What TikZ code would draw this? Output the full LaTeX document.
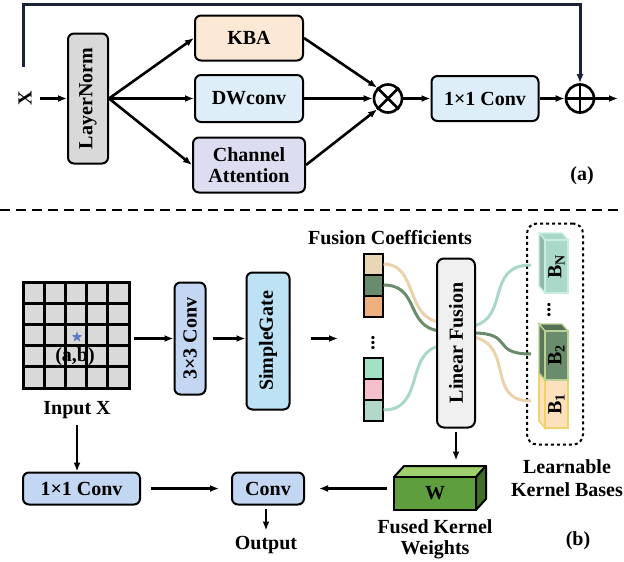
\documentclass[tikz,border=0pt]{standalone}
\usepackage{fontspec}
\setmainfont{Liberation Serif}
\usetikzlibrary{arrows.meta,shapes.geometric}
\definecolor{kbafill}{HTML}{FCE9D5}
\definecolor{dwfill}{HTML}{DDEEF8}
\definecolor{cafill}{HTML}{DCDDF0}
\definecolor{lnfill}{HTML}{D9D9D9}
\definecolor{convfill}{HTML}{C3D7F2}
\definecolor{sgfill}{HTML}{BEE2F5}
\definecolor{lffill}{HTML}{F0F0F0}
\definecolor{ctan}{HTML}{E9D6B4}
\definecolor{cdkgreen}{HTML}{6A8C6C}
\definecolor{corange}{HTML}{EDB07E}
\definecolor{cmint}{HTML}{A2E2C4}
\definecolor{cpink}{HTML}{F6C0CA}
\definecolor{cteal}{HTML}{B1D8C9}
\definecolor{curvetan}{HTML}{EAD3AC}
\definecolor{curveteal}{HTML}{AAD8C6}
\definecolor{bnfill}{HTML}{ABD9C9}
\definecolor{bnedge}{HTML}{C9EEDF}
\definecolor{btwoedge}{HTML}{B9D193}
\definecolor{bonefill}{HTML}{FDE1BC}
\definecolor{boneedge}{HTML}{EFD36A}
\definecolor{wfront}{HTML}{5E9E3C}
\definecolor{wtop}{HTML}{9ED06C}
\definecolor{wside}{HTML}{3F6E27}
\definecolor{linecol}{HTML}{1A2236}
\definecolor{starcol}{HTML}{5B7BC8}
\tikzset{
  lbl/.style={font=\fontsize{20}{22}\selectfont\bfseries},
  blk/.style={draw, line width=2pt, rounded corners=6pt, align=center, inner sep=0pt, lbl},
  arr/.style={-{Latex[length=9pt,width=7pt]}, line width=2.6pt},
  opcirc/.style={draw, circle, line width=2.6pt, minimum size=28pt, inner sep=0pt},
  cell/.style={draw, line width=2pt},
  gridcell/.style={draw, line width=3pt},
  mix/.style={line width=3pt},
}
\begin{document}
\begin{tikzpicture}[x=1pt,y=-1pt]
\useasboundingbox (0,0) rectangle (624,562);

% ---------------- part (a) ----------------
\node[lbl, rotate=90] (x) at (25,98) {X};
\node[blk, fill=lnfill, minimum width=40pt, minimum height=130pt] (ln) at (88,98.5) {};
\node[lbl, rotate=90] at (ln.center) {LayerNorm};
\node[blk, fill=kbafill, minimum width=108pt, minimum height=45pt] (kba) at (249,38) {KBA};
\node[blk, fill=dwfill, minimum width=108pt, minimum height=47pt] (dw) at (249,98.5) {DWconv};
\node[blk, fill=cafill, minimum width=112pt, minimum height=55pt] (ca) at (249,165) {Channel\\[-1pt]Attention};
\node[opcirc] (mul) at (388,98.5) {};
\draw[line width=2.6pt] (mul.north west) -- (mul.south east) (mul.north east) -- (mul.south west);
\node[blk, fill=dwfill, minimum width=107pt, minimum height=45pt] (pc) at (485,98.5) {1\texttimes1 Conv};
\node[opcirc] (add) at (580,98.5) {};
\draw[line width=2.6pt] (add.north) -- (add.south) (add.west) -- (add.east);
\coordinate (outa) at (618,98.5);
\coordinate (inA) at (40,98.5);
\coordinate (skipA) at (23,67);
\coordinate (skipB) at (23,4);
\coordinate (skipC) at (580,4);

\draw[arr] (inA) -- (ln.west);
\draw[arr] (ln.east) -- (kba.west);
\draw[arr] (ln.east) -- (dw.west);
\draw[arr] (ln.east) -- (ca.west);
\draw[arr] (kba.east) -- (mul.north west);
\draw[arr] (dw.east) -- (mul.west);
\draw[arr] (ca.east) -- (mul.south west);
\draw[arr] (mul.east) -- (pc.west);
\draw[arr] (pc.east) -- (add.west);
\draw[arr] (add.east) -- (outa);
\draw[arr, draw=linecol, line width=3pt] (skipA) -- (skipB) -- (skipC) -- (add.north);
\node[lbl] (la) at (582,176) {(a)};

\draw[line width=2.6pt, dash pattern=on 10pt off 6pt] (0,210) -- (624,210);

% ---------------- part (b) ----------------
% input feature grid
\foreach \i in {0,...,4}{
  \foreach \j in {0,...,4}{
    \draw[gridcell, fill=lnfill] (23+21.2*\i,282+21.2*\j) rectangle ++(21.2,21.2);
  }
}
\node[star, star points=5, star point ratio=2.4, fill=starcol, minimum size=11pt, inner sep=0pt] (star) at (77,337) {};
\node[lbl] (ab) at (75,357) {(a,b)};
\node[lbl] (inx) at (77,410) {Input X};
\coordinate (gridE) at (134,338.5);

\node[blk, fill=convfill, minimum width=31pt, minimum height=112pt] (c3) at (190,338.5) {};
\node[lbl, rotate=90] at (c3.center) {3\texttimes3 Conv};
\node[blk, fill=sgfill, minimum width=43pt, minimum height=137pt] (sg) at (268,341) {};
\node[lbl, rotate=90] at (sg.center) {SimpleGate};
\draw[arr] (gridE) -- (c3.west);
\draw[arr] ([xshift=6pt]c3.east) -- (c3.east -| sg.west);
\coordinate (coefin) at (338,338.5);
\draw[arr] ([xshift=20pt]sg.east |- coefin) -- (coefin);

\node[lbl] (fc) at (390,238) {Fusion Coefficients};

% fusion coefficient vectors
\node[cell, fill=ctan, minimum width=19pt, minimum height=21pt, inner sep=0pt] (k1) at (373,264) {};
\node[cell, fill=cdkgreen, minimum width=19pt, minimum height=21pt, inner sep=0pt] (k2) at (373,285) {};
\node[cell, fill=corange, minimum width=19pt, minimum height=21pt, inner sep=0pt] (k3) at (373,306) {};
\node[lbl, rotate=90] (kd) at (373,343) {...};
\node[cell, fill=cmint, minimum width=19pt, minimum height=21pt, inner sep=0pt] (k4) at (373,368) {};
\node[cell, fill=cpink, minimum width=19pt, minimum height=21pt, inner sep=0pt] (k5) at (373,389) {};
\node[cell, fill=cteal, minimum width=19pt, minimum height=21pt, inner sep=0pt] (k6) at (373,410) {};

% kernel bases
\node[draw, dashed, line width=2pt, rounded corners=10pt, minimum width=56pt, minimum height=221pt] (bases) at (555,334) {};
\coordinate (bnA) at (531,265);
\coordinate (b2A) at (531,354);
\coordinate (b1A) at (531,401);

% mixing curves
\coordinate (lfinA) at (440,322);
\coordinate (lfinB) at (440,331);
\coordinate (lfinC) at (440,346);
\coordinate (lfoutA) at (473,326);
\coordinate (lfoutB) at (473,333);
\coordinate (lfoutC) at (473,337);
\draw[curvetan, mix] (k1.east) .. controls (418,264) and (405,318) .. (lfinA);
\draw[cdkgreen, mix] (k2.east) .. controls (420,285) and (405,327) .. (lfinB);
\draw[curveteal, mix] (k6.east) .. controls (425,410) and (405,352) .. (lfinC);
\draw[curveteal, mix] (lfoutA) .. controls (510,318) and (485,265) .. (bnA);
\draw[cdkgreen, mix] (lfoutB) .. controls (515,333) and (490,354) .. (b2A);
\draw[curvetan, mix] (lfoutC) .. controls (515,345) and (485,401) .. (b1A);

\node[blk, fill=lffill, minimum width=38pt, minimum height=169pt, rounded corners=7pt] (lf) at (456,343) {};
\node[lbl, rotate=90] at (lf.center) {Linear Fusion};

% cubes B_N, B_2, B_1
\filldraw[fill=bnfill, draw=bnedge, line width=1.4pt] (545,240) -- (568,240) -- (562,233) -- (539,233) -- cycle;
\filldraw[fill=bnfill!85!black, draw=bnedge, line width=1.4pt] (545,240) -- (539,233) -- (539,286) -- (545,293) -- cycle;
\node[fill=bnfill, draw=bnedge, line width=1.4pt, minimum width=23pt, minimum height=53pt, inner sep=0pt] (bn) at (556.5,266.5) {};
\node[lbl, rotate=90] at (bn.center) {B\textsubscript{N}};
\node[lbl, rotate=90] (bd) at (549,310) {...};

\filldraw[fill=bonefill, draw=boneedge, line width=1.6pt] (545,380) -- (539,373) -- (539,421) -- (545,428) -- cycle;
\node[fill=bonefill, draw=boneedge, line width=1.6pt, minimum width=23pt, minimum height=48pt, inner sep=0pt] (b1) at (556.5,404) {};
\node[lbl, rotate=90] at (b1.center) {B\textsubscript{1}};
\filldraw[fill=cdkgreen!80!black, draw=btwoedge, line width=1.4pt] (545,331) -- (568,331) -- (562,324) -- (539,324) -- cycle;
\filldraw[fill=cdkgreen!85!black, draw=btwoedge, line width=1.4pt] (545,331) -- (539,324) -- (539,373) -- (545,380) -- cycle;
\node[fill=cdkgreen, draw=btwoedge, line width=1.4pt, minimum width=23pt, minimum height=49pt, inner sep=0pt] (b2) at (556.5,355.5) {};
\node[lbl, rotate=90] at (b2.center) {B\textsubscript{2}};

\node[lbl, align=center] (lkb) at (567,478) {Learnable\\[1pt]Kernel Bases};

% fused kernel cuboid W
\filldraw[fill=wtop, draw=black, line width=2pt, line join=round] (394,477) -- (476,477) -- (486,466) -- (404,466) -- cycle;
\filldraw[fill=wside, draw=black, line width=2pt, line join=round] (476,477) -- (486,466) -- (486,499) -- (476,510) -- cycle;
\node[draw, line width=2pt, fill=wfront, minimum width=82pt, minimum height=33pt, inner sep=0pt, lbl] (w) at (435,493.5) {W};
\draw[arr] ([yshift=-3pt]lf.south) -- ++(0,29);

\node[lbl, align=center] (fkw) at (435,539) {Fused Kernel\\[-1pt]Weights};
\node[lbl] (lb) at (578,541) {(b)};

% output branch
\node[blk, fill=convfill, minimum width=117pt, minimum height=32pt] (c1) at (81.5,488.5) {1\texttimes1 Conv};
\node[blk, fill=convfill, minimum width=72pt, minimum height=32pt] (cv) at (268,488.5) {Conv};
\node[lbl] (out) at (266,545) {Output};
\draw[arr] ([yshift=-3pt]inx.south) -- (inx.south |- c1.north);
\draw[arr] ([xshift=10pt]c1.east) -- ([xshift=-12pt]cv.west);
\draw[arr] ([xshift=-6pt]w.west |- cv.east) -- ([xshift=14pt]cv.east);
\draw[arr] ([xshift=-2pt,yshift=-3pt]cv.south) -- ++(0,22);
\end{tikzpicture}
\end{document}
